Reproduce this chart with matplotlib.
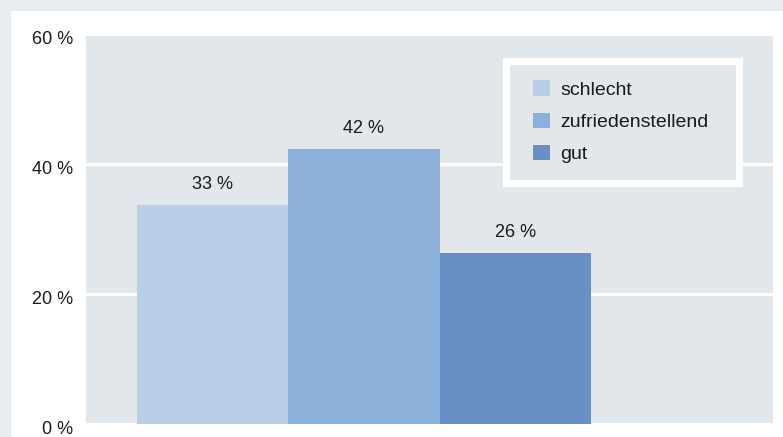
import matplotlib.pyplot as plt
import matplotlib.transforms as mtransforms
from matplotlib.patches import Rectangle, Patch

# data
categories = ["schlecht", "zufriedenstellend", "gut"]
values = [33.7, 42.3, 26.3]
labels = ["33 %", "42 %", "26 %"]
colors = ["#b9cfe8", "#8bb0da", "#6890c6"]
yticks = [0, 20, 40, 60]

plt.rcParams['font.family'] = ['Liberation Sans', 'DejaVu Sans']

W, H = 783, 437
fig = plt.figure(figsize=(W / 100, H / 100), dpi=100)
fig.patch.set_facecolor("#e9edf1")
# white panel with grey strip on left and top
fig.patches.append(Rectangle((11 / W, 0), 1 - 11 / W, 1 - 11 / H,
                             transform=fig.transFigure, facecolor="white",
                             edgecolor="none", zorder=-1))

ax = fig.add_axes([86 / W, (H - 424) / H, 687 / W, 390 / H])
ax.set_zorder(1)
ax.set_facecolor("#e2e7ec")

x = range(len(values))
ax.bar(x, values, width=1.0, color=colors, zorder=2)
for i, (v, lab) in enumerate(zip(values, labels)):
    ax.text(i, v + 1.9, lab, ha="center", va="bottom", fontsize=13, color="#1a1a1a")

ax.set_xlim(-0.838, 3.705)
ax.set_ylim(0, 60)
ax.set_yticks(yticks)
ax.set_yticklabels([f"{t} %" for t in yticks], fontsize=13, color="#1a1a1a")
ax.set_xticks([])
ax.tick_params(axis="y", length=0, pad=9)
shift = mtransforms.ScaledTranslation(0, -3 / 100, fig.dpi_scale_trans)
for lab in ax.get_yticklabels():
    lab.set_transform(lab.get_transform() + shift)
ax.grid(axis="y", color="white", linewidth=2.2, zorder=1)
ax.set_axisbelow(True)
for s in ax.spines.values():
    s.set_visible(False)

# legend box: grey fill with thick white border
ax.add_patch(Rectangle((0.612, 0.619), 0.339, 0.313, transform=ax.transAxes,
                       facecolor="#e2e7ec", edgecolor="white", linewidth=5,
                       zorder=4))
handles = [Patch(facecolor=c, edgecolor="none") for c in colors]
leg = ax.legend(handles, categories, loc="upper left",
                bbox_to_anchor=(0.651, 0.882), fontsize=14,
                frameon=False,
                handlelength=0.85, handleheight=0.85, handletextpad=0.55,
                labelspacing=0.72, borderpad=0, borderaxespad=0)
leg.set_zorder(5)
for t in leg.get_texts():
    t.set_color("#1a1a1a")

fig.savefig("out.png", dpi=100, facecolor=fig.get_facecolor())
